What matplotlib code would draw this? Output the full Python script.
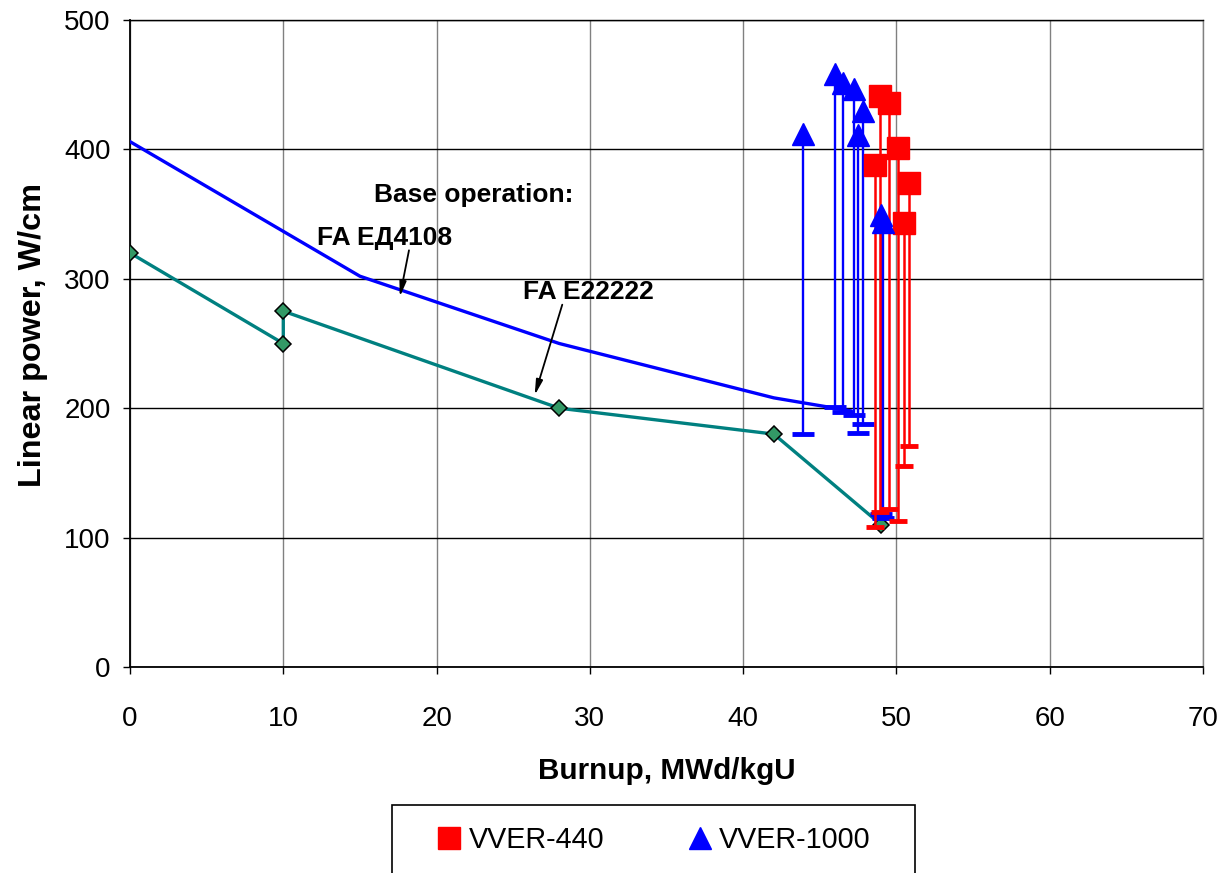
import matplotlib
matplotlib.use("Agg")
import matplotlib.pyplot as plt
from matplotlib.patches import Rectangle

plt.rcParams['font.family'] = ['Liberation Sans', 'DejaVu Sans']

# VVER-440 (red squares): burnup, top power, bottom power
v440_burnup = [48.6, 48.9, 49.5, 50.1, 50.5, 50.8]
v440_top = [388, 441, 436, 401, 343, 374]
v440_bottom = [108, 120, 122, 113, 155, 171]

# VVER-1000 (blue triangles)
v1000_burnup = [43.9, 46.0, 46.5, 47.2, 47.5, 47.8, 49.0, 49.1]
v1000_top = [412, 458, 451, 447, 411, 430, 349, 344]
v1000_bottom = [180, 201, 197, 195, 181, 188, 118, 115]

# Base operation FA ЕД4108 (blue line)
fa4108_burnup = [0, 15, 28, 42, 47]
fa4108_power = [406, 302, 250, 208, 198]

# Base operation FA Е22222 (teal line with diamonds)
fa22222_burnup = [0, 10, 10, 28, 42, 49]
fa22222_power = [320, 250, 275, 200, 180, 110]

x_ticks = [0, 10, 20, 30, 40, 50, 60, 70]
y_ticks = [0, 100, 200, 300, 400, 500]

W, H = 1231, 873
fig = plt.figure(figsize=(W / 100, H / 100), dpi=100)
ax = fig.add_axes([130/W, 1-667/H, (1203-130)/W, (667-20)/H])

ax.set_xlim(0, 70)
ax.set_ylim(0, 500)
ax.set_xticks(x_ticks)
ax.set_yticks(y_ticks)
ax.grid(axis='x', color='#808080', lw=1.0)
ax.grid(axis='y', color='black', lw=1.0)
ax.set_axisbelow(True)

ax.spines['left'].set_color('black')
ax.spines['bottom'].set_color('black')
ax.spines['left'].set_linewidth(1.3)
ax.spines['bottom'].set_linewidth(1.3)
ax.spines['top'].set_color('black')
ax.spines['top'].set_linewidth(1.0)
ax.spines['right'].set_color('#808080')
ax.spines['right'].set_linewidth(1.0)

ax.tick_params(axis='both', labelsize=20, direction='out', length=5, width=1)
ax.tick_params(axis='x', pad=23)
ax.tick_params(axis='y', pad=9)

# Base operation lines
ax.plot(fa4108_burnup, fa4108_power, color='#0000FF', lw=2.4, zorder=3)
ax.plot(fa22222_burnup, fa22222_power, color='#008080', lw=2.4, zorder=3,
        marker='D', ms=8.5, mfc='#339966', mec='black', mew=1.1)

# VVER-1000 ramps
ax.vlines(v1000_burnup, v1000_bottom, v1000_top, color='#0000FF', lw=1.7, zorder=4)
ax.plot(v1000_burnup, v1000_bottom, ls='none', marker='_', ms=16, mew=3.5,
        color='#0000FF', zorder=4)
# VVER-440 ramps
ax.vlines(v440_burnup, v440_bottom, v440_top, color='#FF0000', lw=1.8, zorder=4)
ax.plot(v440_burnup, v440_bottom, ls='none', marker='_', ms=13, mew=3.5,
        color='#FF0000', zorder=4)

ax.plot(v440_burnup, v440_top, ls='none', marker='s', ms=16.5, color='#FF0000',
        mec='#FF0000', zorder=5, label='VVER-440')
ax.plot(v1000_burnup, v1000_top, ls='none', marker='^', ms=16, color='#0000FF',
        mec='#0000FF', zorder=6, label='VVER-1000')

# Annotations
ax.text(22.4, 365, 'Base operation:', fontsize=19, fontweight='bold',
        ha='center', va='center')
ax.text(16.6, 331.5, 'FA ЕД4108', fontsize=19, fontweight='bold',
        ha='center', va='center')
ax.text(29.9, 290, 'FA Е22222', fontsize=19, fontweight='bold',
        ha='center', va='center')
arrow_style = dict(arrowstyle='-|>,head_length=0.9,head_width=0.2',
                   color='black', lw=1.3, shrinkA=0, shrinkB=0)
ax.annotate('', xy=(17.6, 286), xytext=(18.2, 322), arrowprops=arrow_style)
ax.annotate('', xy=(26.4, 210), xytext=(28.2, 280), arrowprops=arrow_style)

ax.set_xlabel('Burnup, MWd/kgU', fontsize=21.3, fontweight='bold', labelpad=18)
ax.set_ylabel('Linear power, W/cm', fontsize=23.3, fontweight='bold')
ax.yaxis.set_label_coords(-0.076, (667-335)/647)

# Legend box
fig.patches.append(Rectangle((392/W, -0.05), (915-392)/W, (H-805)/H + 0.05,
                             transform=fig.transFigure, fill=False,
                             edgecolor='black', lw=1.2))
fig.legend(loc='upper left', bbox_to_anchor=(434/W, 1-826/H),
           ncol=2, fontsize=20.7, frameon=False, borderpad=0, borderaxespad=0,
           columnspacing=2.8, handletextpad=0.15, handlelength=1.05)

fig.savefig('out.png', dpi=100)
